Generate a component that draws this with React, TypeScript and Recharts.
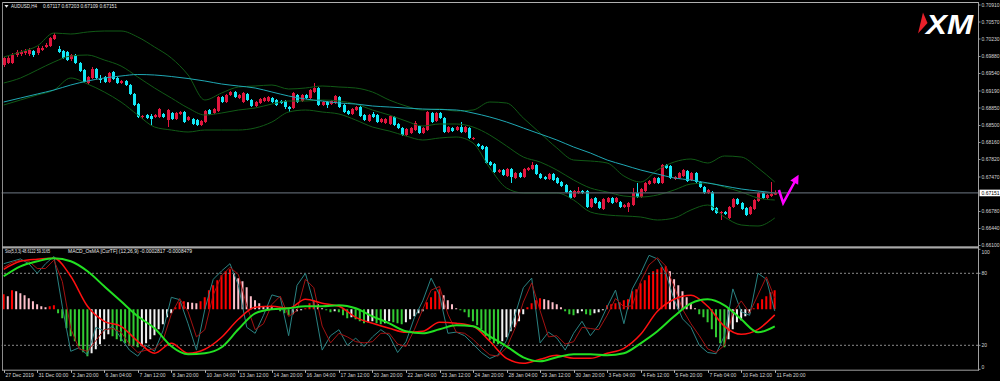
import React from "react";
import { ComposedChart, Bar, Line, XAxis, YAxis, ReferenceLine, Cell } from "recharts";

const BAR_COUNT = 185;
const SLOT_COUNT = 233;

const opens = [
0.6971,0.6975,0.6975,0.6991,0.6993,0.6995,0.6993,0.6999,0.6995,0.7001,
0.7007,0.7009,0.7023,0.7003,0.6999,0.6997,0.6983,0.6991,0.6975,0.6961,
0.6935,0.6945,0.6963,0.6943,0.6947,0.6937,0.6957,0.6945,0.6935,0.6939,
0.6931,0.6913,0.6893,0.6867,0.6871,0.6869,0.6867,0.6867,0.6873,0.6861,
0.6875,0.6863,0.6873,0.6877,0.6861,0.6863,0.6861,0.6851,0.6857,0.6881,
0.6875,0.6879,0.6907,0.6897,0.6911,0.6917,0.6905,0.6897,0.6913,0.6901,
0.6889,0.6895,0.6899,0.6899,0.6905,0.6901,0.6899,0.6899,0.6887,0.6885,
0.6911,0.6899,0.6911,0.6905,0.6917,0.6925,0.6891,0.6897,0.6893,0.6895,
0.6907,0.6891,0.6879,0.6873,0.6881,0.6887,0.6871,0.6859,0.6873,0.6871,
0.6857,0.6855,0.6853,0.6867,0.6853,0.6845,0.6831,0.6835,0.6841,0.6849,
0.6835,0.6841,0.6875,0.6859,0.6875,0.6865,0.6837,0.6845,0.6841,0.6847,
0.6837,0.6845,0.6823,0.6813,0.6809,0.6807,0.6777,0.6773,0.6757,0.6761,
0.6749,0.6763,0.6745,0.6755,0.6747,0.6761,0.6763,0.6771,0.6753,0.6747,
0.6743,0.6753,0.6745,0.6737,0.6731,0.6719,0.6707,0.6715,0.6719,0.6719,
0.6687,0.6705,0.6697,0.6683,0.6697,0.6705,0.6697,0.6697,0.6687,0.6687,
0.6691,0.6715,0.6707,0.6719,0.6733,0.6735,0.6745,0.6735,0.6771,0.6769,
0.6743,0.6745,0.6749,0.6759,0.6741,0.6755,0.6737,0.6727,0.6715,0.6717,
0.6685,0.6675,0.6677,0.6665,0.6687,0.6703,0.6695,0.6685,0.6673,0.6683,
0.6699,0.6715,0.6705,0.6709,0.67117];
const highs = [
0.6987,0.6989,0.6995,0.7001,0.7001,0.7003,0.7005,0.7001,0.7009,0.7009,
0.7015,0.7027,0.7035,0.7009,0.7001,0.6999,0.6993,0.6993,0.6977,0.6963,
0.6949,0.6967,0.6965,0.6951,0.6949,0.6957,0.6959,0.6947,0.6941,0.6941,
0.6933,0.6915,0.6895,0.6871,0.6873,0.6873,0.6873,0.6885,0.6875,0.6883,
0.6877,0.6877,0.6879,0.6879,0.6869,0.6865,0.6863,0.6861,0.6881,0.6883,
0.6885,0.6909,0.6909,0.6913,0.6919,0.6919,0.6913,0.6917,0.6915,0.6903,
0.6899,0.6905,0.6907,0.6909,0.6907,0.6903,0.6901,0.6901,0.6889,0.6917,
0.6913,0.6913,0.6913,0.6923,0.6935,0.6927,0.6899,0.6899,0.6901,0.6911,
0.6909,0.6893,0.6881,0.6885,0.6889,0.6889,0.6873,0.6873,0.6877,0.6873,
0.6865,0.6865,0.6871,0.6869,0.6855,0.6847,0.6845,0.6847,0.6859,0.6851,
0.6847,0.6879,0.6877,0.6877,0.6877,0.6867,0.6849,0.6847,0.6849,0.6857,
0.6849,0.6847,0.6827,0.6815,0.6811,0.6809,0.6779,0.6775,0.6763,0.6763,
0.6765,0.6765,0.6757,0.6757,0.6765,0.6767,0.6777,0.6773,0.6755,0.6749,
0.6755,0.6755,0.6747,0.6739,0.6733,0.6721,0.6721,0.6727,0.6721,0.6721,
0.6705,0.6707,0.6699,0.6705,0.6707,0.6707,0.6707,0.6699,0.6693,0.6697,
0.6725,0.6735,0.6725,0.6737,0.6741,0.6747,0.6747,0.6773,0.6773,0.6771,
0.6749,0.6757,0.6763,0.6761,0.6757,0.6757,0.6739,0.6729,0.6723,0.6719,
0.6687,0.6679,0.6679,0.6689,0.6705,0.6705,0.6697,0.6687,0.6689,0.6703,
0.6717,0.6717,0.6713,0.6737,0.67203];
const lows = [
0.6967,0.6973,0.6973,0.6987,0.6989,0.6991,0.6989,0.6987,0.6991,0.6999,
0.7005,0.7007,0.7021,0.6995,0.6983,0.6979,0.6979,0.6973,0.6957,0.6935,
0.6931,0.6943,0.6943,0.6935,0.6935,0.6935,0.6941,0.6933,0.6933,0.6929,
0.6911,0.6889,0.6865,0.6863,0.6863,0.6851,0.6865,0.6865,0.6865,0.6847,
0.6861,0.6861,0.6871,0.6855,0.6859,0.6851,0.6849,0.6849,0.6855,0.6871,
0.6873,0.6877,0.6895,0.6895,0.6909,0.6905,0.6903,0.6895,0.6899,0.6887,
0.6887,0.6893,0.6897,0.6897,0.6895,0.6889,0.6893,0.6883,0.6877,0.6883,
0.6895,0.6897,0.6903,0.6903,0.6915,0.6889,0.6889,0.6885,0.6891,0.6893,
0.6885,0.6875,0.6871,0.6871,0.6879,0.6867,0.6859,0.6857,0.6865,0.6855,
0.6855,0.6853,0.6851,0.6849,0.6843,0.6829,0.6829,0.6833,0.6839,0.6833,
0.6833,0.6839,0.6855,0.6857,0.6863,0.6835,0.6835,0.6837,0.6839,0.6835,
0.6835,0.6823,0.6821,0.6807,0.6801,0.6773,0.6769,0.6755,0.6755,0.6749,
0.6747,0.6735,0.6743,0.6745,0.6745,0.6759,0.6761,0.6751,0.6743,0.6741,
0.6741,0.6739,0.6733,0.6727,0.6715,0.6703,0.6705,0.6713,0.6713,0.6685,
0.6685,0.6693,0.6683,0.6681,0.6695,0.6693,0.6695,0.6685,0.6685,0.6677,
0.6689,0.6705,0.6705,0.6717,0.6731,0.6733,0.6733,0.6733,0.6763,0.6743,
0.6741,0.6743,0.6747,0.6737,0.6739,0.6735,0.6725,0.6713,0.6713,0.6679,
0.6673,0.6661,0.6671,0.6663,0.6685,0.6691,0.6681,0.6669,0.6671,0.6681,
0.6697,0.6703,0.6703,0.6707,0.67109];
const closes = [
0.6985,0.6985,0.6991,0.6997,0.6997,0.6999,0.7001,0.6991,0.7005,0.7005,
0.7011,0.7025,0.7031,0.6997,0.6985,0.6981,0.6991,0.6975,0.6959,0.6937,
0.6947,0.6963,0.6945,0.6941,0.6937,0.6955,0.6943,0.6935,0.6939,0.6931,
0.6913,0.6891,0.6867,0.6869,0.6865,0.6863,0.6871,0.6883,0.6867,0.6881,
0.6863,0.6875,0.6877,0.6857,0.6867,0.6853,0.6851,0.6859,0.6879,0.6873,
0.6883,0.6907,0.6897,0.6911,0.6917,0.6907,0.6911,0.6915,0.6901,0.6889,
0.6897,0.6903,0.6905,0.6907,0.6897,0.6891,0.6895,0.6887,0.6883,0.6915,
0.6897,0.6911,0.6905,0.6921,0.6925,0.6891,0.6897,0.6891,0.6899,0.6909,
0.6887,0.6877,0.6873,0.6883,0.6887,0.6869,0.6861,0.6871,0.6867,0.6857,
0.6863,0.6863,0.6869,0.6851,0.6845,0.6831,0.6843,0.6845,0.6855,0.6835,
0.6845,0.6877,0.6857,0.6875,0.6865,0.6837,0.6847,0.6839,0.6847,0.6837,
0.6847,0.6825,0.6825,0.6809,0.6803,0.6775,0.6771,0.6757,0.6761,0.6751,
0.6763,0.6747,0.6755,0.6747,0.6763,0.6765,0.6771,0.6753,0.6745,0.6743,
0.6753,0.6741,0.6735,0.6729,0.6717,0.6705,0.6719,0.6719,0.6715,0.6687,
0.6703,0.6695,0.6685,0.6703,0.6705,0.6695,0.6705,0.6687,0.6691,0.6695,
0.6715,0.6707,0.6723,0.6735,0.6739,0.6745,0.6735,0.6771,0.6765,0.6745,
0.6747,0.6755,0.6761,0.6739,0.6755,0.6737,0.6727,0.6715,0.6721,0.6681,
0.6675,0.6677,0.6673,0.6687,0.6703,0.6693,0.6683,0.6671,0.6687,0.6701,
0.6715,0.6705,0.6711,0.6713,0.67151];

// sampled every 4th bar (bar 0, 4, 8 ... 184)
const bbUpper = [0.6987,0.6997,0.7009,0.7035,0.7033,0.7037,0.7039,0.7039,0.7027,0.7007,0.6985,0.6951,0.6901,0.6915,0.6927,0.6929,0.6931,0.6923,0.6925,0.6929,0.6927,0.6925,0.6917,0.6901,0.6889,0.6881,0.6883,0.6879,0.6881,0.6897,0.6895,0.6865,0.6835,0.6805,0.6781,0.6779,0.6775,0.6749,0.6737,0.6761,0.6777,0.6783,0.6775,0.6789,0.6787,0.6765,0.6737];
const bbMiddle = [0.6935,0.6945,0.6961,0.6977,0.6989,0.6991,0.6981,0.6969,0.6947,0.6925,0.6905,0.6885,0.6871,0.6875,0.6881,0.6885,0.6893,0.6899,0.6899,0.6901,0.6899,0.6893,0.6881,0.6871,0.6859,0.6849,0.6853,0.6853,0.6847,0.6831,0.6809,0.6787,0.6777,0.6761,0.6741,0.6725,0.6717,0.6709,0.6707,0.6711,0.6721,0.6733,0.6735,0.6727,0.6717,0.6705,0.6701];
const bbLower = [0.6891,0.6901,0.6911,0.6921,0.6945,0.6933,0.6917,0.6897,0.6871,0.6847,0.6841,0.6837,0.6841,0.6841,0.6841,0.6845,0.6857,0.6877,0.6881,0.6877,0.6873,0.6861,0.6847,0.6839,0.6829,0.6821,0.6825,0.6827,0.6815,0.6765,0.6725,0.6715,0.6715,0.6715,0.6701,0.6677,0.6671,0.6669,0.6667,0.6661,0.6665,0.6681,0.6691,0.6667,0.6651,0.6649,0.6665];
const maSlow = [0.6897,0.6905,0.6913,0.6921,0.6931,0.6939,0.6945,0.6949,0.6952,0.6951,0.6948,0.6944,0.6939,0.6933,0.6929,0.6925,0.6917,0.6909,0.6903,0.6899,0.6895,0.6893,0.6889,0.6887,0.6885,0.6883,0.6882,0.6881,0.6875,0.6867,0.6857,0.6845,0.6833,0.6821,0.6807,0.6795,0.6781,0.6771,0.6761,0.6753,0.6745,0.6741,0.6735,0.6729,0.6723,0.6719,0.6715];
const macdMain = [0.002,0.0024,0.0025,0.00255,0.00165,0.00015,-0.0006,-0.00085,-0.0016,-0.0022,-0.0017,-0.0022,-0.002,-0.0014,-0.0005,0.0001,0.00015,0.00005,0.0005,0.0003,0.00015,-0.0004,-0.0007,-0.00095,-0.00115,-0.0011,-0.00065,-0.0007,-0.00085,-0.0016,-0.00245,-0.0027,-0.0025,-0.0023,-0.00245,-0.00245,-0.0022,-0.00195,-0.00125,-0.0001,0.0005,0.0007,0.00015,-0.00085,-0.00125,-0.001,-0.00028];
const macdSignal = [0.00165,0.00215,0.0024,0.00255,0.0024,0.0019,0.00115,0.0004,-0.00035,-0.00095,-0.00185,-0.00225,-0.0022,-0.0019,-0.001,-0.0002,0,0.00005,0.00015,0.00015,0.0002,0.00005,-0.00035,-0.0007,-0.0011,-0.0012,-0.001,-0.0008,-0.00085,-0.00135,-0.00185,-0.0024,-0.0026,-0.0024,-0.00225,-0.00225,-0.0023,-0.0022,-0.0017,-0.0011,-0.00035,0.0003,0.0005,0.0002,-0.0005,-0.00115,-0.00085];

// sampled every 2nd bar
const stoMain = [88,90,92,88,80,88,94,52,15,18,12,35,32,36,26,16,11,20,15,32,60,58,38,16,50,75,82,88,70,35,30,45,62,60,28,70,80,55,16,28,33,20,26,19,27,33,28,14,23,43,57,76,62,30,31,28,21,14,9,12,24,45,68,76,22,31,26,16,30,40,28,37,52,66,38,67,80,95,92,80,58,42,35,20,14,13,28,67,48,45,80,75,48.61];
const stoSignal = [85,89,91,90,84,84,91,73,34,17,15,24,33,34,31,21,14,16,17,24,46,59,48,27,33,62,78,85,79,53,33,38,54,61,44,49,75,68,36,22,30,27,23,22,23,30,30,21,19,33,50,66,69,46,31,30,25,18,12,11,18,34,56,72,49,27,28,21,23,35,34,33,45,59,52,53,73,87,93,86,69,50,38,28,17,14,20,47,57,47,62,77,59.32];

// OsMA histogram, every bar
const osma = [
0.00045,0.00039,0.00057,0.00054,0.00048,0.00042,0.00033,0.00024,0.00015,0.00009,
0.00006,0.00009,0.00012,-0.00012,-0.00027,-0.00057,-0.00081,-0.00096,-0.00111,-0.00129,
-0.00141,-0.00132,-0.0012,-0.00105,-0.0009,-0.00075,-0.00081,-0.0009,-0.00096,-0.00102,
-0.00108,-0.00111,-0.00114,-0.00111,-0.00102,-0.0009,-0.00078,-0.0006,-0.00045,-0.00024,
-0.00012,0.00006,0.00021,0.00024,0.00021,0.0002,0.00018,0.00024,0.00036,0.00057,
0.00072,0.00087,0.00102,0.00114,0.0012,0.00108,0.00093,0.00084,0.00066,0.00039,
0.00027,0.00018,0.00009,0.00008,0.00006,0.00003,-0.00006,-0.00012,-0.00018,-0.00015,
-0.00006,-0.00003,0.00003,0.00018,0.00027,0.00015,0.00003,-0.00003,-0.00009,-0.00006,
-0.00009,-0.00018,-0.00027,-0.00024,-0.0003,-0.00036,-0.00042,-0.00039,-0.00036,-0.00042,
-0.00045,-0.00042,-0.00036,-0.00039,-0.00042,-0.00045,-0.00039,-0.0003,-0.00021,-0.00012,
-0.00006,0.00021,0.00036,0.00054,0.0006,0.00042,0.00027,0.00015,0.00003,-0.00003,
-0.00009,-0.00024,-0.00036,-0.00048,-0.0006,-0.00081,-0.00093,-0.00102,-0.00105,-0.00096,
-0.00084,-0.00066,-0.00054,-0.00036,-0.00015,0.00006,0.00018,0.00027,0.00033,0.0003,
0.00027,0.00021,0.00015,0.00006,-0.00006,-0.00015,-0.00018,-0.00012,-0.00006,-0.00015,
-0.00018,-0.00012,-0.00009,-0.00003,0.00012,0.00015,0.00018,0.00021,0.00027,0.0003,
0.00054,0.0006,0.00078,0.00087,0.00102,0.00114,0.0012,0.00126,0.00129,0.00114,
0.0009,0.00072,0.00054,0.00036,0.00018,0.00003,-0.00015,-0.00024,-0.00039,-0.0006,
-0.00084,-0.00102,-0.00114,-0.0009,-0.0006,-0.00039,-0.00033,-0.00021,-0.00012,0.00003,
0.00018,0.0003,0.00039,0.00051,0.00057];

const arrowBars = [185, 186, 189];
const arrowPrices = [0.6721, 0.6695, 0.6741];

const timeLabels = ["27 Dec 2019","31 Dec 00:00","2 Jan 20:00","6 Jan 04:00","7 Jan 12:00","8 Jan 20:00","10 Jan 04:00","13 Jan 12:00","14 Jan 20:00","16 Jan 04:00","17 Jan 12:00","20 Jan 20:00","22 Jan 04:00","23 Jan 12:00","24 Jan 20:00","28 Jan 04:00","29 Jan 12:00","30 Jan 20:00","3 Feb 04:00","4 Feb 12:00","5 Feb 20:00","7 Feb 04:00","10 Feb 12:00","11 Feb 20:00"];
const priceTicks = [0.7091,0.7057,0.7023,0.6988,0.6954,0.6919,0.6885,0.685,0.6816,0.6782,0.6747,0.6678,0.6644,0.661];
const stoTicks = [0, 20, 80, 100];
const bidPrice = 0.67151;

const RED = "#e0163e";
const CYAN = "#14e8f5";
const FONT = "Liberation Sans, Arial, sans-serif";

const rows = Array.from({ length: SLOT_COUNT }, (_, i) => {
  const r: any = { i };
  if (i < BAR_COUNT) {
    r.o = opens[i]; r.h = highs[i]; r.l = lows[i]; r.c = closes[i];
    r.hist = osma[i];
    r.histPrev = i > 0 ? osma[i - 1] : osma[i];
  }
  if (i % 4 === 0 && i / 4 < bbUpper.length) {
    const k = i / 4;
    r.bbU = bbUpper[k]; r.bbM = bbMiddle[k]; r.bbL = bbLower[k]; r.ma = maSlow[k];
    r.macd = macdMain[k]; r.sig = macdSignal[k];
  }
  if (i % 2 === 0 && i / 2 < stoMain.length) {
    r.k = stoMain[i / 2]; r.d = stoSignal[i / 2];
  }
  const a = arrowBars.indexOf(i);
  if (a >= 0) r.arrow = arrowPrices[a];
  return r;
});

const timeTickIdx = timeLabels.map((_, k) => k * 8);

const histColor = (v: number, prev: number) =>
  v >= 0 ? (v >= prev ? "#ff0000" : "#ffc0cb") : (v <= prev ? "#33cc33" : "#f2f2f2");

const Candle = (props: any) => {
  const { x, y, width, height, payload } = props;
  if (!payload || payload.h == null || x == null || y == null) return <g />;
  const top0 = height < 0 ? y + height : y;
  const hh = Math.abs(height);
  const { o, h, l, c } = payload;
  const span = h - l || 1e-9;
  const py = (v: number) => top0 + ((h - v) / span) * hh;
  const cx = Math.round(x + width / 2);
  const col = c >= o ? RED : CYAN;
  const bt = py(Math.max(o, c));
  const bb = py(Math.min(o, c));
  return (
    <g>
      <line x1={cx + 0.5} x2={cx + 0.5} y1={top0} y2={top0 + hh} stroke={col} strokeWidth={1} />
      <rect x={cx - 1} y={bt} width={3} height={Math.max(1, bb - bt)} fill={col} />
    </g>
  );
};

const PriceTick = (p: any) => {
  const { x, y, payload } = p;
  return (
    <g>
      <line x1={x} x2={x + 2.5} y1={y} y2={y} stroke="#b8b8b8" strokeWidth={0.8} />
      <text x={x + 3.5} y={y + 1.8} fontSize={5} fill="#d6d6d6" fontFamily={FONT}>{Number(payload.value).toFixed(5)}</text>
    </g>
  );
};

const StoTick = (p: any) => {
  const { x, y, payload } = p;
  const v = payload.value;
  const dy = v === 100 ? 4.5 : v === 0 ? -0.5 : 1.8;
  return (
    <g>
      <line x1={x} x2={x + 2.5} y1={y} y2={y} stroke="#b8b8b8" strokeWidth={0.8} />
      <text x={x + 3.5} y={y + dy} fontSize={5} fill="#d6d6d6" fontFamily={FONT}>{String(v)}</text>
    </g>
  );
};

const TimeTick = (p: any) => {
  const { x, y, payload } = p;
  const label = timeLabels[payload.value / 8];
  if (!label) return <g />;
  const xx = Math.round(x) + 0.5;
  return (
    <g>
      <line x1={xx} x2={xx} y1={y + 0.7} y2={y + 3.5} stroke="#b8b8b8" strokeWidth={1} />
      <text x={xx + 1} y={y + 7.8} fontSize={5} fill="#d6d6d6" fontFamily={FONT}>{label}</text>
    </g>
  );
};

const BidLabel = (p: any) => {
  const vb = p.viewBox || {};
  const right = (vb.x || 0) + (vb.width || 0);
  const y = vb.y || 0;
  return (
    <g>
      <rect x={right + 1.5} y={y - 3.3} width={21} height={6.6} fill="#ffffff" />
      <text x={right + 3.5} y={y + 1.8} fontSize={5} fill="#000000" fontFamily={FONT}>{bidPrice.toFixed(5)}</text>
    </g>
  );
};

const ArrowHead = (p: any) => {
  const { cx, cy, payload, index } = p;
  if (cx == null || cy == null || !payload || payload.i !== arrowBars[arrowBars.length - 1]) return <g key={`ah${index}`} />;
  return <path key={`ah${index}`} d="M 6 0 L -3 -4.5 L -3 4.5 Z" fill="#ff00ff" transform={`translate(${cx},${cy}) rotate(-61)`} />;
};

const lineCommon = { dot: false, activeDot: false, isAnimationActive: false, connectNulls: true } as any;

export default function App() {
  return (
    <div style={{ position: "relative", width: 1000, height: 381, background: "#000", overflow: "hidden" }}>
      <style>{"body{margin:0;background:#000;}"}</style>
      <div style={{ position: "absolute", left: 0, top: 0 }}>
        <ComposedChart width={1000} height={247} data={rows} margin={{ top: 3, right: 0, bottom: 1, left: 1.6 }} barCategoryGap={0}>
          <XAxis dataKey="i" type="category" hide />
          <YAxis yAxisId="p" orientation="right" width={22} domain={[0.6609, 0.7095]} allowDataOverflow ticks={priceTicks} interval={0} tickSize={0} tickMargin={0} axisLine={false} tickLine={false} tick={<PriceTick />} />
          <Line yAxisId="p" dataKey="bbU" type="monotone" stroke="#115a16" strokeWidth={1} {...lineCommon} />
          <Line yAxisId="p" dataKey="bbM" type="monotone" stroke="#115a16" strokeWidth={1} {...lineCommon} />
          <Line yAxisId="p" dataKey="bbL" type="monotone" stroke="#115a16" strokeWidth={1} {...lineCommon} />
          <Bar yAxisId="p" dataKey={(d: any) => (d.h == null ? null : [d.l, d.h])} barSize={3} shape={<Candle />} isAnimationActive={false} />
          <Line yAxisId="p" dataKey="ma" type="monotone" stroke="#1fa8b4" strokeWidth={1} {...lineCommon} />
          <ReferenceLine yAxisId="p" y={bidPrice} stroke="#58606a" strokeWidth={1.3} label={<BidLabel />} />
          <Line yAxisId="p" dataKey="arrow" type="linear" stroke="#ff00ff" strokeWidth={2.5} dot={<ArrowHead />} activeDot={false} isAnimationActive={false} connectNulls />
        </ComposedChart>
      </div>
      <div style={{ position: "absolute", left: 0, top: 247 }}>
        <ComposedChart width={1000} height={134} data={rows} margin={{ top: 2.3, right: 0, bottom: 0, left: 1.6 }} barCategoryGap={0}>
          <XAxis dataKey="i" type="category" ticks={timeTickIdx} interval={0} height={11.7} tickSize={0} tickMargin={0} axisLine={false} tickLine={false} tick={<TimeTick />} />
          <YAxis yAxisId="s" orientation="right" width={22} domain={[0, 100]} allowDataOverflow ticks={stoTicks} interval={0} tickSize={0} tickMargin={0} axisLine={false} tickLine={false} tick={<StoTick />} />
          <YAxis yAxisId="h" hide domain={[-0.0018, 0.0018]} allowDataOverflow />
          <YAxis yAxisId="m" hide domain={[-0.003, 0.003]} allowDataOverflow />
          <ReferenceLine yAxisId="s" y={80} stroke="#8a8a8a" strokeDasharray="2 2" />
          <ReferenceLine yAxisId="s" y={20} stroke="#8a8a8a" strokeDasharray="2 2" />
          <Bar yAxisId="h" dataKey="hist" barSize={2} isAnimationActive={false}>
            {rows.map((r: any) => (
              <Cell key={`c${r.i}`} fill={r.hist == null ? "#000" : histColor(r.hist, r.histPrev)} />
            ))}
          </Bar>
          <Line yAxisId="s" dataKey="k" type="linear" stroke="#2a8282" strokeWidth={1} {...lineCommon} />
          <Line yAxisId="s" dataKey="d" type="linear" stroke="#a31212" strokeWidth={1} {...lineCommon} />
          <Line yAxisId="m" dataKey="macd" type="monotone" stroke="#ff1010" strokeWidth={1.5} {...lineCommon} />
          <Line yAxisId="m" dataKey="sig" type="monotone" stroke="#22e022" strokeWidth={2} {...lineCommon} />
        </ComposedChart>
      </div>
      <svg width={1000} height={381} style={{ position: "absolute", left: 0, top: 0, pointerEvents: "none" }}>
        <line x1={2} x2={979} y1={2.5} y2={2.5} stroke="#b0b0b0" strokeWidth={1} />
        <line x1={2.5} x2={2.5} y1={2} y2={370.5} stroke="#8c8c8c" strokeWidth={1} />
        <line x1={978.5} x2={978.5} y1={2} y2={370.5} stroke="#a0a0a0" strokeWidth={1} />
        <rect x={2} y={246.3} width={977} height={2.2} fill="#a8a8a8" />
        <line x1={2} x2={979} y1={370.2} y2={370.2} stroke="#a0a0a0" strokeWidth={1} />
        <polygon points="4.5,5 8.5,5 6.5,7.8" fill="#e8e8e8" />
        <text x={11} y={8.3} fontSize={5.5} fill="#e8e8e8" fontFamily={FONT} textLength={26} lengthAdjust="spacingAndGlyphs">AUDUSD,H4</text>
        <text x={43} y={8.3} fontSize={5.5} fill="#e8e8e8" fontFamily={FONT} textLength={74} lengthAdjust="spacingAndGlyphs">0.67117 0.67203 0.67109 0.67151</text>
        <text x={5} y={253.3} fontSize={5.5} fill="#e8e8e8" fontFamily={FONT} textLength={45} lengthAdjust="spacingAndGlyphs">Sto(5,3,3) 48.6122 59.3165</text>
        <text x={68} y={253.3} fontSize={5.5} fill="#e8e8e8" fontFamily={FONT} textLength={124} lengthAdjust="spacingAndGlyphs">MACD_OsMA [CurTF] (12,26,9) -0.0002817 -0.0008479</text>
        <polygon points="923,12.5 918,33.5 927.5,23" fill="#e8202a" />
        <text x={926} y={33.5} fontSize={27} fontWeight="bold" fontStyle="italic" fill="#ffffff" fontFamily={FONT} textLength={47} lengthAdjust="spacingAndGlyphs">XM</text>
      </svg>
    </div>
  );
}
